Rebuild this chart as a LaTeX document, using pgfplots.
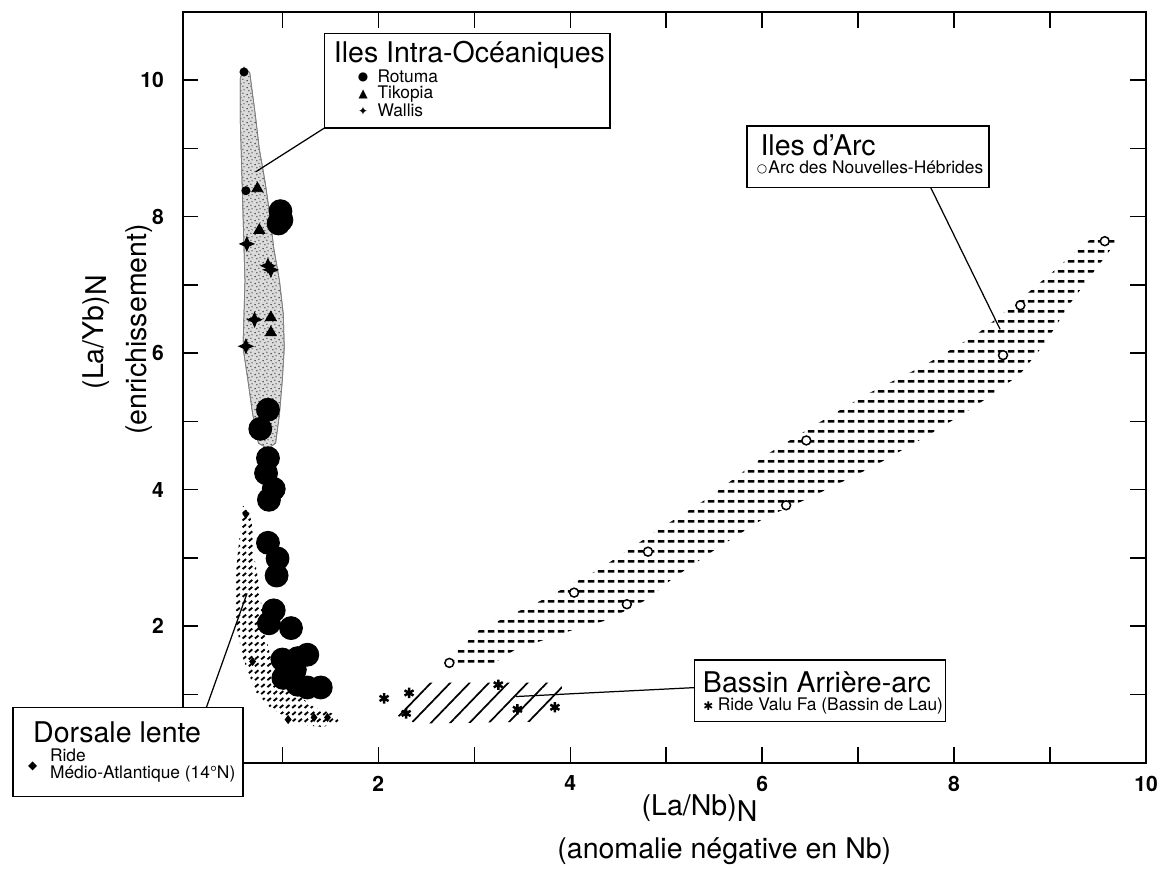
\documentclass[border=0pt]{standalone}
\usepackage{fontspec}
\setmainfont{TeX Gyre Heros}
\newfontfamily\sym{DejaVu Sans}
\usepackage{pgfplots}
\pgfplotsset{compat=1.18}
\usetikzlibrary{patterns,patterns.meta}

\pgfdeclarepatternformonly{hdash}{\pgfqpoint{0pt}{0pt}}{\pgfqpoint{4.2pt}{4.1pt}}{\pgfqpoint{4.2pt}{4.1pt}}{%
  \pgfpathrectangle{\pgfqpoint{0.4pt}{1.5pt}}{\pgfqpoint{2.7pt}{1.05pt}}\pgfusepath{fill}}
\pgfdeclarepatternformonly{sdash}{\pgfqpoint{-0.5pt}{-0.5pt}}{\pgfqpoint{3pt}{3.3pt}}{\pgfqpoint{2.5pt}{2.8pt}}{%
  \pgfsetlinewidth{0.75pt}\pgfpathmoveto{\pgfqpoint{0.3pt}{0.6pt}}\pgfpathlineto{\pgfqpoint{1.7pt}{1.8pt}}\pgfusepath{stroke}}
\pgfdeclarepatternformonly{stipple}{\pgfqpoint{0pt}{0pt}}{\pgfqpoint{3pt}{3pt}}{\pgfqpoint{3pt}{3pt}}{%
  \pgfpathcircle{\pgfqpoint{0.5pt}{0.6pt}}{0.35pt}%
  \pgfpathcircle{\pgfqpoint{2.1pt}{1.2pt}}{0.3pt}%
  \pgfpathcircle{\pgfqpoint{1.2pt}{2.3pt}}{0.32pt}%
  \pgfpathcircle{\pgfqpoint{2.6pt}{2.7pt}}{0.28pt}%
  \pgfusepath{fill}}

\pgfdeclareplotmark{fourstar}{%
  \pgfpathmoveto{\pgfqpoint{0pt}{\pgfplotmarksize}}%
  \pgfpathlineto{\pgfqpoint{0.3\pgfplotmarksize}{0.3\pgfplotmarksize}}%
  \pgfpathlineto{\pgfqpoint{\pgfplotmarksize}{0pt}}%
  \pgfpathlineto{\pgfqpoint{0.3\pgfplotmarksize}{-0.3\pgfplotmarksize}}%
  \pgfpathlineto{\pgfqpoint{0pt}{-\pgfplotmarksize}}%
  \pgfpathlineto{\pgfqpoint{-0.3\pgfplotmarksize}{-0.3\pgfplotmarksize}}%
  \pgfpathlineto{\pgfqpoint{-\pgfplotmarksize}{0pt}}%
  \pgfpathlineto{\pgfqpoint{-0.3\pgfplotmarksize}{0.3\pgfplotmarksize}}%
  \pgfpathclose\pgfusepathqfillstroke}

\newcommand\fA{\fontsize{11.5}{13}\selectfont}
\newcommand\fB{\fontsize{7}{8.4}\selectfont}
\newcommand\fS{\sym\fontsize{4.8}{5}\selectfont}
\tikzset{px/.style={x=0.4pt,y=-0.4pt,shift={(-73.6pt,307.4pt)}}}

\begin{document}
\begin{tikzpicture}
\begin{scope}[px]
\useasboundingbox (0,0) rectangle (1166,876);
\end{scope}
\begin{axis}[
  scale only axis, width=388.4pt, height=302.6pt,
  xmin=-0.04, xmax=10, ymin=0, ymax=11,
  axis line style={line width=0.8pt},
  xtick={2,4,6,8,10}, minor xtick={1,3,5,7,9},
  ytick={2,4,6,8,10}, minor ytick={1,3,5,7,9},
  xtick pos=both, ytick pos=both,
  xticklabel pos=lower, yticklabel pos=left,
  tick align=inside, major tick length=6.4pt, minor tick length=6.4pt,
  every tick/.style={line width=0.6pt, black},
  ticklabel style={font=\fontsize{8.5}{10}\selectfont\bfseries},
  /pgf/number format/assume math mode=true,
  yticklabel style={xshift=-4pt},
  xticklabel style={yshift=-1.8pt},
  clip=false,
]
% Iles intra-oceaniques envelope
\addplot[draw=black!50, line width=0.3pt, fill=black!14, postaction={pattern=stipple, pattern color=black!70}] coordinates {
(0.60,10.19) (0.56,10.02) (0.56,9.47) (0.57,8.99) (0.59,8.02) (0.61,7.06) (0.59,6.08)
(0.64,5.61) (0.69,5.11) (0.75,4.68) (0.85,4.60) (0.93,4.68) (0.97,5.11) (1.00,5.61)
(1.02,6.08) (1.01,6.57) (0.97,7.06) (0.91,7.54) (0.87,8.02) (0.82,8.51) (0.76,8.99)
(0.72,9.47) (0.66,10.11)} --cycle;
% Dorsale lente crescent
\addplot[draw=none, pattern=sdash] coordinates {
(0.59,3.76) (0.53,2.99) (0.50,2.49) (0.52,2.01) (0.59,1.53) (0.72,1.04) (0.87,0.81)
(1.16,0.56) (1.42,0.52) (1.59,0.60) (1.54,0.71) (1.33,0.81) (1.02,1.14) (0.88,1.53)
(0.80,2.01) (0.77,2.49) (0.71,2.99) (0.69,3.47) (0.64,3.73)} --cycle;
% Iles d'Arc band
\addplot[draw=none, pattern=hdash] coordinates {
(2.69,1.46) (3.05,1.94) (3.72,2.39) (4.31,2.84) (4.95,3.44) (5.45,3.89) (6.02,4.49)
(6.52,4.92) (7.08,5.39) (7.69,5.82) (8.24,6.28) (8.64,6.73) (9.02,7.18) (9.38,7.63)
(9.53,7.74) (9.72,7.71) (9.69,7.63) (9.45,7.18) (9.21,6.73) (8.94,6.13) (8.68,5.68)
(8.24,5.24) (7.76,4.82) (7.16,4.34) (6.51,3.89) (6.02,3.58) (5.52,3.13) (5.07,2.70)
(4.80,2.39) (4.39,2.09) (4.02,1.94) (3.69,1.78) (3.41,1.64) (3.21,1.46)} --cycle;
% Bassin arriere-arc
\addplot[draw=none, pattern={Lines[angle=46,distance=5.6pt,line width=0.7pt]}] coordinates {
(2.12,0.73) (2.38,1.17) (3.90,1.17) (3.95,0.91) (3.72,0.60) (2.40,0.57)} --cycle;
% Rotuma
\addplot[only marks, mark=*, mark size=4.6pt, black] coordinates {
(0.98,8.08) (0.99,7.95) (0.96,7.90) (0.85,5.17) (0.77,4.89) (0.85,4.46) (0.83,4.24)
(0.91,4.01) (0.86,3.85) (0.85,3.22) (0.95,2.99) (0.94,2.74) (0.91,2.23) (0.86,2.04)
(1.09,1.97) (1.00,1.51) (1.16,1.53) (1.26,1.58) (1.13,1.36) (1.01,1.24) (1.16,1.14)
(1.26,1.10) (1.40,1.10)};
\addplot[only marks, mark=*, mark size=1.6pt, black] coordinates {(0.60,10.12) (0.62,8.38)};
% Tikopia
\addplot[only marks, mark=triangle*, mark size=2.5pt, black] coordinates {
(0.74,8.41) (0.76,7.80) (0.88,6.52) (0.88,6.30)};
% Wallis
\addplot[only marks, mark=fourstar, mark size=2.8pt, black] coordinates {
(0.63,7.60) (0.85,7.28) (0.88,7.22) (0.71,6.49) (0.62,6.10)};
% Dorsale
\addplot[only marks, mark=diamond*, mark size=1.5pt, black] coordinates {
(0.62,3.64) (0.69,1.48) (1.06,0.63) (1.33,0.66) (1.47,0.66)};
% Bassin (Valu Fa)
\addplot[only marks, mark=asterisk, mark size=2.1pt, line width=1pt, black] coordinates {
(2.06,0.94) (2.32,1.02) (2.29,0.72) (3.25,1.14) (3.45,0.78) (3.84,0.81)};
% Arc Nouvelles-Hebrides
\addplot[only marks, mark=*, mark size=1.8pt, mark options={fill=white, draw=black, line width=0.6pt}] coordinates {
(2.74,1.46) (4.04,2.49) (4.59,2.32) (4.81,3.09) (6.25,3.77) (6.46,4.72) (8.51,5.97) (8.69,6.70) (9.57,7.64)};
\end{axis}

\begin{scope}[px]
% leader lines
\draw[line width=0.5pt] (327,129) -- (258,173);
\draw[line width=0.5pt] (938,189) -- (1008,332);
\draw[line width=0.5pt] (700,693) -- (520,702);
\draw[line width=0.5pt] (208,713) -- (249,598);
% boxes
\draw[line width=0.6pt, fill=white] (327,34) rectangle (615,129);
\node[anchor=base west, inner sep=0pt] at (336,63) {\fA Iles Intra-Océaniques};
\node[inner sep=0pt] at (366,78) {\fS ●};
\node[inner sep=0pt] at (366,95) {\fS ▲};
\node[inner sep=0pt] at (366,112) {\fS ✦};
\node[anchor=base west, inner sep=0pt] at (380,83) {\fB Rotuma};
\node[anchor=base west, inner sep=0pt] at (380,99) {\fB Tikopia};
\node[anchor=base west, inner sep=0pt] at (380,117) {\fB Wallis};

\draw[line width=0.6pt, fill=white] (753,127) rectangle (997,189);
\node[anchor=base west, inner sep=0pt] at (766,157) {\fA Iles d'Arc};
\node[inner sep=0pt] at (768,171) {\fS ○};
\node[anchor=base west, inner sep=0pt] at (774,175) {\fB Arc des Nouvelles-Hébrides};

\draw[line width=0.6pt, fill=white] (700,665) rectangle (953,727);
\node[anchor=base west, inner sep=0pt] at (708,698) {\fA Bassin Arrière-arc};
\node[inner sep=0pt] at (714,712) {\fS ✱};
\node[anchor=base west, inner sep=0pt] at (723,716) {\fB Ride Valu Fa (Bassin de Lau)};

\draw[line width=0.6pt, fill=white] (13,713) rectangle (245,803);
\node[anchor=base west, inner sep=0pt] at (33,748) {\fA Dorsale lente};
\node[inner sep=0pt] at (33,772) {\fS ◆};
\node[anchor=base west, inner sep=0pt] at (50,767) {\fB Ride};
\node[anchor=base west, inner sep=0pt] at (50,785) {\fB Médio-Atlantique (14°N)};

% axis labels
\node[rotate=90, inner sep=0pt] at (97,335) {\fA (La/Yb)\raisebox{-0.2ex}{N}};
\node[rotate=90, inner sep=0pt] at (140,332) {\fA (enrichissement)};
\node[inner sep=0pt] at (705,814) {\fA (La/Nb)\raisebox{-0.4ex}{N}};
\node[inner sep=0pt] at (730,858) {\fA (anomalie négative en Nb)};
\end{scope}
\end{tikzpicture}
\end{document}
